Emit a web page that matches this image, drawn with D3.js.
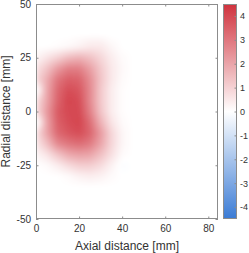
<!DOCTYPE html>
<html>
<head>
<meta charset="utf-8">
<script src="https://cdn.jsdelivr.net/npm/d3@7"></script>
<style>
  body { margin: 0; background: #fff; }
  svg { font-family: "Liberation Sans", Arial, sans-serif; }
</style>
</head>
<body>
<div id="chart"></div>
<script>
// grid of the field, mm
var xs = [0, 5, 10, 15, 20, 25, 30, 35, 40, 45];
var ys = [35, 30, 25, 20, 15, 10, 5, 0, -5, -10, -15, -20, -25, -30, -35];
// one row per ys entry, one value per xs entry
var field = [
  [0.0, 0.0, 0.0, 0.0, 0.05, 0.1, 0.1, 0.0, 0.0, 0.0],
  [0.0, 0.0, 0.05, 0.15, 0.3, 0.5, 0.5, 0.2, 0.0, 0.0],
  [0.2, 0.6, 1.0, 1.5, 1.7, 1.4, 0.9, 0.4, 0.1, 0.0],
  [0.6, 1.3, 2.2, 2.8, 2.8, 2.1, 1.2, 0.5, 0.15, 0.0],
  [0.8, 1.8, 3.0, 3.5, 3.4, 2.5, 1.3, 0.5, 0.1, 0.0],
  [-0.3, 1.9, 3.3, 3.9, 3.7, 2.6, 1.2, 0.4, 0.05, 0.0],
  [0.6, 2.0, 3.4, 4.1, 3.9, 2.6, 1.2, 0.4, 0.05, 0.0],
  [0.7, 2.2, 3.6, 4.0, 4.0, 2.8, 1.3, 0.4, 0.05, 0.0],
  [-0.4, 2.0, 3.5, 3.9, 4.1, 3.2, 1.7, 0.6, 0.1, 0.0],
  [0.6, 2.0, 3.3, 3.7, 3.9, 3.4, 2.2, 0.9, 0.2, 0.0],
  [0.5, 1.4, 2.6, 3.0, 3.2, 2.9, 2.0, 0.9, 0.2, 0.0],
  [0.2, 0.6, 1.3, 1.9, 2.1, 2.0, 1.4, 0.7, 0.1, 0.0],
  [0.0, 0.1, 0.4, 0.8, 1.1, 1.1, 0.8, 0.3, -0.1, 0.0],
  [0.0, 0.0, 0.0, 0.1, 0.3, 0.4, 0.3, 0.1, 0.0, 0.0],
  [0.0, 0.0, 0.0, 0.0, 0.0, 0.0, 0.0, 0.0, 0.0, 0.0]
];
var xTicks = [0, 20, 40, 60, 80];
var yTicks = [-50, -25, 0, 25, 50];
var cTicks = [-4, -3, -2, -1, 0, 1, 2, 3, 4];

var W = 249, H = 253;
var plot = {left: 36, right: 218, top: 4, bottom: 219};
var cbar = {left: 223, right: 237};

var x = d3.scaleLinear().domain([0, 84.5]).range([plot.left, plot.right]);
var y = d3.scaleLinear().domain([-50, 50]).range([plot.bottom, plot.top]);
var cy = d3.scaleLinear().domain([-4.5, 4.5]).range([plot.bottom, plot.top]);
var color = d3.scaleLinear()
  .domain([-4.5, 0, 4.5])
  .range(["#3a7bd5", "#ffffff", "#d0323d"])
  .clamp(true);

// plain hyphen like the original, not the unicode minus
var fmt = function(d) { return String(d); };

var svg = d3.select("#chart").append("svg")
  .attr("width", W).attr("height", H);

// bilinear lookup in the grid
function sample(mx, my) {
  if (mx < xs[0] || mx > xs[xs.length - 1] || my > ys[0] || my < ys[ys.length - 1]) return 0;
  var i = Math.min(Math.floor((mx - xs[0]) / 5), xs.length - 2);
  var j = Math.min(Math.floor((ys[0] - my) / 5), ys.length - 2);
  var tx = (mx - xs[i]) / 5, ty = (ys[j] - my) / 5;
  var a = field[j][i], b = field[j][i + 1], c = field[j + 1][i], d = field[j + 1][i + 1];
  return (a * (1 - tx) + b * tx) * (1 - ty) + (c * (1 - tx) + d * tx) * ty;
}

var pw = plot.right - plot.left, ph = plot.bottom - plot.top;
var canvas = document.createElement("canvas");
canvas.width = pw; canvas.height = ph;
var ctx = canvas.getContext("2d");
var img = ctx.createImageData(pw, ph);
for (var py = 0; py < ph; py++) {
  for (var px = 0; px < pw; px++) {
    var v = sample(x.invert(plot.left + px + 0.5), y.invert(plot.top + py + 0.5));
    var c = d3.rgb(color(v));
    var k = (py * pw + px) * 4;
    img.data[k] = c.r; img.data[k + 1] = c.g; img.data[k + 2] = c.b; img.data[k + 3] = 255;
  }
}
ctx.putImageData(img, 0, 0);

var defs = svg.append("defs");
defs.append("clipPath").attr("id", "clip")
  .append("rect").attr("x", plot.left).attr("y", plot.top).attr("width", pw).attr("height", ph);
defs.append("filter").attr("id", "soft")
  .append("feGaussianBlur").attr("stdDeviation", 2).attr("edgeMode", "duplicate");

svg.append("g").attr("clip-path", "url(#clip)")
  .append("image")
  .attr("x", plot.left).attr("y", plot.top)
  .attr("width", pw).attr("height", ph)
  .attr("preserveAspectRatio", "none")
  .attr("filter", "url(#soft)")
  .attr("href", canvas.toDataURL());

// axes, MATLAB style box with inward ticks
var axisColor = "#8c8c8c";
function styleAxis(g) {
  g.select(".domain").remove();
  g.selectAll(".tick line").attr("stroke", axisColor);
  g.selectAll(".tick text").attr("fill", "#333").style("font-size", "10px");
}
svg.append("g").attr("transform", "translate(0," + plot.bottom + ")")
  .call(d3.axisBottom(x).tickValues(xTicks).tickSize(-2.5).tickPadding(6).tickFormat(fmt))
  .call(styleAxis);
svg.append("g").attr("transform", "translate(0," + plot.top + ")")
  .call(d3.axisTop(x).tickValues(xTicks).tickSize(-2.5).tickFormat(""))
  .call(styleAxis);
svg.append("g").attr("transform", "translate(" + plot.left + ",0)")
  .call(d3.axisLeft(y).tickValues(yTicks).tickSize(-2.5).tickPadding(5).tickFormat(fmt))
  .call(styleAxis);
svg.append("g").attr("transform", "translate(" + plot.right + ",0)")
  .call(d3.axisRight(y).tickValues(yTicks).tickSize(-2.5).tickFormat(""))
  .call(styleAxis);
svg.append("rect")
  .attr("x", plot.left + 0.5).attr("y", plot.top + 0.5)
  .attr("width", pw - 1).attr("height", ph - 1)
  .attr("fill", "none").attr("stroke", axisColor);

svg.append("text")
  .attr("x", (plot.left + plot.right) / 2).attr("y", 250)
  .attr("text-anchor", "middle").attr("fill", "#333")
  .style("font-size", "12px")
  .text("Axial distance [mm]");
svg.append("text")
  .attr("transform", "translate(10," + ((plot.top + plot.bottom) / 2) + ") rotate(-90)")
  .attr("text-anchor", "middle").attr("fill", "#333")
  .style("font-size", "12px")
  .text("Radial distance [mm]");

// colorbar
var grad = defs.append("linearGradient").attr("id", "cgrad")
  .attr("x1", 0).attr("y1", 1).attr("x2", 0).attr("y2", 0);
d3.range(-4.5, 4.51, 0.5).forEach(function(v) {
  grad.append("stop").attr("offset", (v + 4.5) / 9).attr("stop-color", color(v));
});
svg.append("rect")
  .attr("x", cbar.left).attr("y", plot.top)
  .attr("width", cbar.right - cbar.left).attr("height", ph)
  .attr("fill", "url(#cgrad)");
svg.append("g").attr("transform", "translate(" + cbar.right + ",0)")
  .call(d3.axisRight(cy).tickValues(cTicks).tickSize(-2.5).tickPadding(3).tickFormat(fmt))
  .call(styleAxis)
  .call(function(g) { g.selectAll(".tick text").style("font-size", "9px"); });
svg.append("rect")
  .attr("x", cbar.left + 0.5).attr("y", plot.top + 0.5)
  .attr("width", cbar.right - cbar.left - 1).attr("height", ph - 1)
  .attr("fill", "none").attr("stroke", axisColor);
</script>
</body>
</html>
